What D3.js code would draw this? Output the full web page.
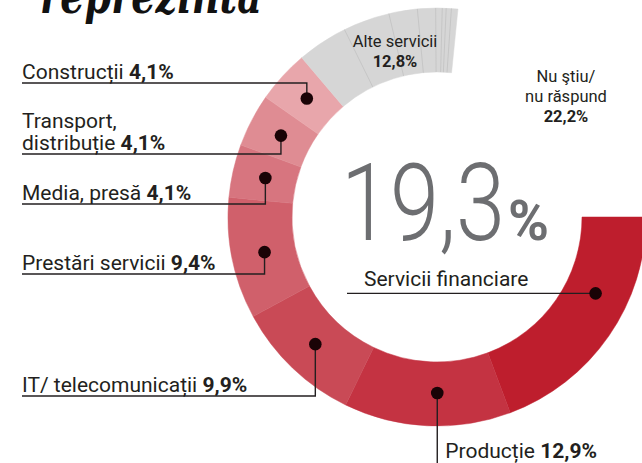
<!DOCTYPE html>
<html>
<head>
<meta charset="utf-8">
<script src="https://cdn.jsdelivr.net/npm/d3@7"></script>
<style>
    html, body { margin: 0; padding: 0; background: #fff; }
    svg { display: block; font-family: Roboto, "Open Sans", sans-serif; }
</style>
</head>
<body>
<svg id="chart" width="642" height="463"></svg>
<script>
// slices, clockwise from 3 o'clock
const sectors = ["Servicii financiare", "Producție", "IT/ telecomunicații", "Prestări servicii",
    "Media, presă", "Transport, distribuție", "Construcții", "Alte servicii", "Nu ştiu/ nu răspund"];
const shares = [19.3, 12.9, 9.9, 9.4, 4.1, 4.1, 4.1, 12.8, 22.2];
const shareLabels = ["19,3%", "12,9%", "9,9%", "9,4%", "4,1%", "4,1%", "4,1%", "12,8%", "22,2%"];
// the grey "Alte servicii" slice is made of several thin slices
const otherParts = [3.9, 3.6, 2.2, 1.4, 0.5, 0.3, 0.4, 0.5];

const COLORS = ["#be1e2d", "#c43342", "#c94a56", "#d0606b", "#d7757f", "#df8c93", "#e8a6ab", "#d6d6d6", "none"];
const INK = "#231f20";

const width = 642, height = 463;
const cx = 437, cy = 217;
const rIn = 145, rOut = 209, rDot = 176;

const svg = d3.select("#chart");

// title, mostly cut off by the top edge
svg.append("text")
    .attr("x", 40).attr("y", 13)
    .attr("font-family", "DejaVu Serif")
    .attr("font-weight", "bold")
    .attr("font-style", "italic")
    .attr("font-size", 50)
    .attr("textLength", 222)
    .attr("lengthAdjust", "spacingAndGlyphs")
    .attr("fill", "#111")
    .text("reprezintă");

const total = d3.sum(shares);
const pie = d3.pie()
    .sort(null)
    .value(d => d)
    .startAngle(Math.PI / 2)
    .endAngle(Math.PI / 2 + 2 * Math.PI * total / 100);

const slices = pie(shares);
const arc = d3.arc().innerRadius(rIn).outerRadius(rOut);

const g = svg.append("g").attr("transform", `translate(${cx},${cy})`);

g.selectAll("path.slice")
    .data(slices)
    .join("path")
    .attr("class", "slice")
    .attr("d", arc)
    .attr("fill", (d, i) => COLORS[i])
    .attr("stroke", (d, i) => COLORS[i])
    .attr("stroke-width", 0.5);

// thin divider lines inside the grey slice
const other = slices[7];
const subPie = d3.pie().sort(null).value(d => d)
    .startAngle(other.startAngle).endAngle(other.endAngle);
const subSlices = subPie(otherParts).slice(1);
g.selectAll("line.sub")
    .data(subSlices)
    .join("line")
    .attr("class", "sub")
    .attr("x1", d => d3.pointRadial(d.startAngle, rIn)[0])
    .attr("y1", d => d3.pointRadial(d.startAngle, rIn)[1])
    .attr("x2", d => d3.pointRadial(d.startAngle, rOut)[0])
    .attr("y2", d => d3.pointRadial(d.startAngle, rOut)[1])
    .attr("stroke", "#c2c2c2")
    .attr("stroke-width", 0.8);

// callout layout for the labelled slices
const callouts = [
    { i: 0, kind: "right", t: 0.37, lineX: 347, textX: 364, baseline: 286 },
    { i: 1, kind: "down", t: 0.44, textDx: 8, baseline: 458 },
    { i: 2, kind: "left", lineY: 396, lines: ["IT/ telecomunicații"] },
    { i: 3, kind: "left", lineY: 274, lines: ["Prestări servicii"] },
    { i: 4, kind: "left", lineY: 204, lines: ["Media, presă"] },
    { i: 5, kind: "left", lineY: 154, lines: ["Transport,", "distribuție"] },
    { i: 6, kind: "left", lineY: 83, lines: ["Construcții"] }
];

const labelFont = 21;
const leftX = 22;

function dotPos(c) {
    const s = slices[c.i];
    const t = c.t === undefined ? 0.5 : c.t;
    const a = s.startAngle + (s.endAngle - s.startAngle) * t;
    const p = d3.pointRadial(a, rDot);
    return [p[0] + cx, p[1] + cy];
}

const ann = svg.append("g");

callouts.forEach(c => {
    const [dx, dy] = dotPos(c);
    let path;
    if (c.kind === "left") path = `M${leftX},${c.lineY}H${dx}V${dy}`;
    else if (c.kind === "down") path = `M${dx},${dy}V${height}`;
    else path = `M${c.lineX},${dy}H${dx}`;

    ann.append("path")
        .attr("d", path)
        .attr("fill", "none")
        .attr("stroke", INK)
        .attr("stroke-width", 1.4);

    ann.append("circle")
        .attr("cx", dx).attr("cy", dy).attr("r", 6.3)
        .attr("fill", "#1a0306");

    if (c.kind === "left") {
        const n = c.lines.length;
        c.lines.forEach((ln, k) => {
            const t = ann.append("text")
                .attr("x", leftX)
                .attr("y", c.lineY - 4 - (n - 1 - k) * 22)
                .attr("font-size", labelFont)
                .attr("fill", INK)
                .text(ln);
            if (k === n - 1) {
                t.append("tspan").text(" ");
                t.append("tspan").attr("font-weight", "bold").text(shareLabels[c.i]);
            }
        });
    } else if (c.kind === "down") {
        const t = ann.append("text")
            .attr("x", dx + c.textDx).attr("y", c.baseline)
            .attr("font-size", labelFont).attr("fill", INK)
            .text(sectors[c.i] + " ");
        t.append("tspan").attr("font-weight", "bold").text(shareLabels[c.i]);
    } else {
        ann.append("text")
            .attr("x", c.textX).attr("y", c.baseline)
            .attr("font-size", labelFont).attr("fill", INK)
            .text(sectors[c.i]);
    }
});

// big central figure for the highlighted slice
const big = shareLabels[0].replace("%", "");
svg.append("text")
    .attr("x", 341).attr("y", 240)
    .attr("font-size", 108)
    .attr("font-weight", 300)
    .attr("textLength", 164)
    .attr("lengthAdjust", "spacingAndGlyphs")
    .attr("fill", "#6d6e71")
    .text(big);
svg.append("text")
    .attr("x", 508).attr("y", 240)
    .attr("font-size", 56)
    .attr("font-weight", "bold")
    .attr("textLength", 41)
    .attr("lengthAdjust", "spacingAndGlyphs")
    .attr("fill", "#6d6e71")
    .text("%");

// labels drawn without leader lines
const inlineLabels = [
    { i: 7, x: 395, y: 47, lines: ["Alte servicii"] },
    { i: 8, x: 566, y: 82, lines: ["Nu ştiu/", "nu răspund"] }
];
inlineLabels.forEach(l => {
    const t = svg.append("text")
        .attr("text-anchor", "middle")
        .attr("font-size", 16.5)
        .attr("fill", INK);
    l.lines.forEach((ln, k) => {
        t.append("tspan").attr("x", l.x).attr("y", l.y + k * 20).text(ln);
    });
    t.append("tspan").attr("x", l.x).attr("y", l.y + l.lines.length * 20)
        .attr("font-weight", "bold").text(shareLabels[l.i]);
});
</script>
</body>
</html>
